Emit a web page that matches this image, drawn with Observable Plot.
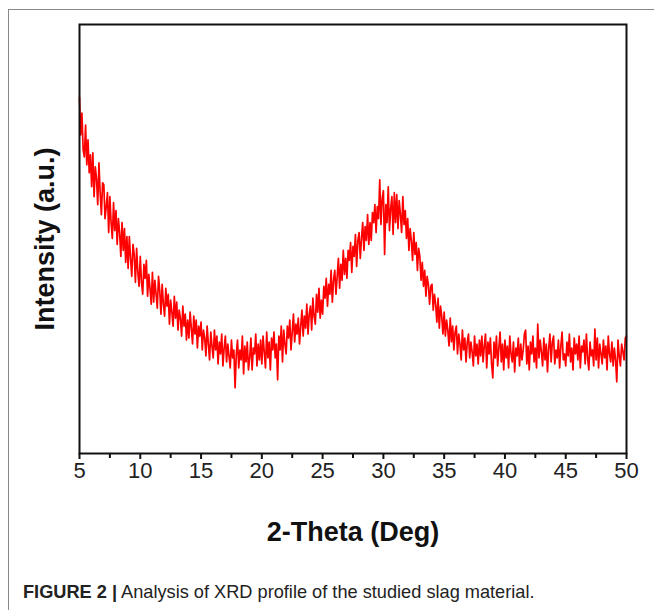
<!DOCTYPE html>
<html>
<head>
<meta charset="utf-8">
<script src="https://cdn.jsdelivr.net/npm/d3@7"></script>
<script src="https://cdn.jsdelivr.net/npm/@observablehq/plot@0.6"></script>
<style>
  html, body { margin: 0; padding: 0; background: #fff; }
  body { width: 654px; height: 610px; position: relative; overflow: hidden; font-family: "Liberation Sans", Arial, sans-serif; }
  #panel { position: absolute; left: 8px; top: 9px; width: 646px; height: 601px; border-left: 1px solid #888; border-top: 1px solid #888; }
  #chart { position: absolute; left: 0; top: 0; }
  #caption { position: absolute; left: 14px; top: 572px; font-size: 18.2px; color: #222; white-space: nowrap; }
  #caption b { font-weight: bold; }
</style>
</head>
<body>
<div id="panel">
  <div id="chart"></div>
  <div id="caption"><b>FIGURE 2 |</b> Analysis of XRD profile of the studied slag material.</div>
</div>
<script>
// 2-theta sampling grid
const twoThetaStart = 5;
const twoThetaStep = 0.1;
// intensity (a.u.), one row per degree (5.0 .. 50.0)
const intensity = [
  358, 320, 342, 305, 298, 330, 290, 315, 282, 300,
  268, 302, 258, 288, 276, 250, 292, 262, 240, 272,
  270, 236, 248, 262, 222, 258, 232, 216, 252, 224,
  244, 210, 236, 222, 198, 232, 204, 226, 192, 218,
  186, 218, 196, 178, 210, 200, 172, 206, 182, 168,
  198, 172, 160, 190, 176, 194, 158, 180, 166, 150,
  182, 152, 174, 160, 146, 178, 164, 140, 170, 150,
  138, 166, 148, 160, 130, 154, 142, 128, 158, 136,
  152, 124, 144, 136, 118, 148, 128, 140, 114, 134,
  116, 142, 126, 110, 138, 120, 134, 106, 128, 118,
  132, 104, 124, 116, 98, 128, 110, 94, 122, 108,
  96, 124, 104, 118, 90, 112, 100, 120, 88, 106,
  118, 92, 110, 98, 86, 114, 96, 104, 66, 100,
  114, 86, 104, 94, 118, 80, 108, 92, 112, 84,
  96, 116, 84, 106, 100, 120, 88, 110, 94, 114,
  90, 118, 102, 86, 122, 96, 112, 84, 116, 104,
  122, 96, 110, 74, 118, 104, 128, 92, 124, 110,
  100, 128, 116, 134, 104, 122, 140, 112, 130, 120,
  136, 110, 128, 144, 118, 138, 126, 150, 120, 140,
  148, 124, 156, 138, 130, 160, 142, 166, 136, 154,
  140, 168, 156, 176, 148, 170, 160, 184, 152, 174,
  184, 160, 178, 196, 166, 190, 174, 204, 180, 196,
  176, 204, 194, 212, 182, 208, 198, 220, 188, 214,
  222, 196, 216, 232, 204, 228, 214, 240, 210, 232,
  214, 242, 232, 250, 222, 248, 236, 275, 230, 256,
  264, 200, 250, 232, 268, 224, 246, 258, 220, 262,
  232, 260, 226, 254, 240, 222, 258, 230, 244, 216,
  236, 204, 226, 214, 194, 222, 200, 212, 184, 206,
  198, 174, 192, 168, 184, 158, 178, 170, 150, 168,
  170, 144, 160, 150, 132, 156, 126, 148, 138, 120,
  142, 118, 134, 124, 108, 136, 112, 128, 104, 122,
  128, 100, 120, 110, 94, 124, 104, 116, 92, 112,
  120, 96, 112, 102, 88, 118, 98, 110, 90, 114,
  98, 118, 92, 108, 120, 86, 112, 100, 116, 90,
  76, 112, 96, 118, 88, 106, 122, 92, 110, 84,
  114, 96, 108, 86, 118, 100, 92, 112, 82, 106,
  98, 116, 88, 110, 94, 104, 120, 124, 90, 108,
  84, 112, 100, 118, 92, 106, 86, 130, 96, 114,
  102, 88, 116, 94, 110, 82, 106, 120, 92, 112,
  118, 90, 104, 96, 114, 86, 108, 122, 94, 100,
  88, 112, 98, 120, 92, 106, 84, 116, 100, 110,
  94, 118, 86, 108, 102, 114, 90, 120, 96, 84,
  112, 98, 104, 88, 125, 94, 116, 86, 110, 100,
  90, 114, 96, 108, 84, 118, 100, 92, 112, 88,
  106, 94, 72, 114, 98, 88, 110, 102, 94, 116,
  118
];
const majorTicks = [5, 10, 15, 20, 25, 30, 35, 40, 45, 50];
const minorTicks = [7.5, 12.5, 17.5, 22.5, 27.5, 32.5, 37.5, 42.5, 47.5];
const xDomain = [5, 50];
const yDomain = [0, 431];
const xTitle = "2-Theta (Deg)";
const yTitle = "Intensity (a.u.)";

const data = intensity.map((v, i) => ({theta: +(twoThetaStart + i * twoThetaStep).toFixed(2), v}));

const chart = Plot.plot({
  width: 645,
  height: 540,
  marginLeft: 70,
  marginRight: 28,
  marginTop: 14,
  marginBottom: 97,
  style: {fontFamily: "Liberation Sans, Arial, sans-serif", color: "#222", background: "white"},
  x: {domain: xDomain},
  y: {domain: yDomain, axis: null},
  marks: [
    Plot.line(data, {x: "theta", y: "v", stroke: "#ff0000", strokeWidth: 1.7}),
    Plot.frame({stroke: "#111", strokeWidth: 2}),
    Plot.axisX({ticks: minorTicks, tickSize: 5, tickFormat: () => "", strokeWidth: 2, stroke: "#111", label: null}),
    Plot.axisX({ticks: majorTicks, tickSize: 6, tickPadding: 3, fontSize: 22, strokeWidth: 2, stroke: "#111", label: null}),
    Plot.text([xTitle], {frameAnchor: "bottom", lineAnchor: "middle", dy: 79, fontSize: 27, fontWeight: "bold", fill: "#111"}),
    Plot.text([yTitle], {frameAnchor: "left", textAnchor: "middle", lineAnchor: "middle", rotate: -90, dx: -34, fontSize: 27, fontWeight: "bold", fill: "#111"})
  ]
});
document.getElementById("chart").appendChild(chart);
</script>
</body>
</html>
